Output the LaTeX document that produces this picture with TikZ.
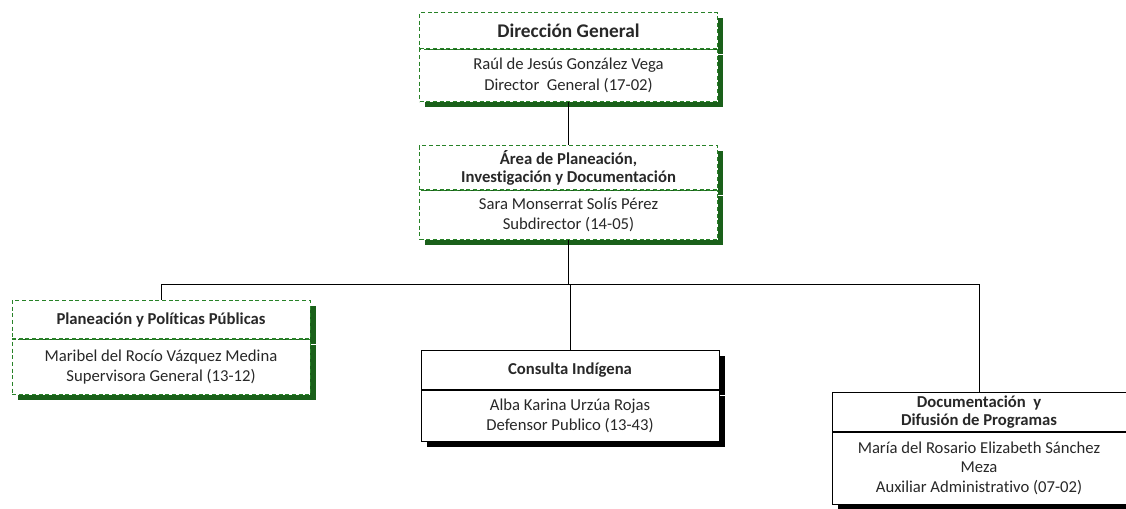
\documentclass[tikz,border=0pt]{standalone}
\usepackage{fontspec}
\setmainfont{Carlito}[Ligatures=NoCommon]
\usetikzlibrary{positioning,shadows}

\definecolor{linegreen}{RGB}{40,130,40}
\definecolor{shadegreen}{RGB}{26,96,26}
\definecolor{txtgray}{RGB}{40,40,40}

\begin{document}
\begin{tikzpicture}[x=0.75pt,y=-0.75pt,
    greenbox/.style={rectangle, draw=linegreen, dashed, dash pattern=on 3pt off 2pt, fill=white, line width=0.75pt,
        minimum width=223.5pt, inner sep=1pt, align=center, text=txtgray,
        drop shadow={fill=shadegreen, opacity=1, shadow xshift=4.2pt, shadow yshift=-4.2pt}},
    blackbox/.style={rectangle, draw=black, fill=white, line width=0.6pt,
        minimum width=223.5pt, inner sep=1pt, align=center, text=txtgray,
        drop shadow={fill=black, opacity=1, shadow xshift=4.2pt, shadow yshift=-4.2pt}},
    headfont/.style={font=\bfseries\fontsize{12.5}{13.5}\selectfont},
    bodyfont/.style={font=\fontsize{12.5}{15.5}\selectfont},
    link/.style={draw=black, line width=0.6pt}]

    \useasboundingbox (0,0) rectangle (1126,508);

    % direccion general
    \node[greenbox, anchor=north, minimum height=27pt, font=\bfseries\fontsize{14.5}{16}\selectfont] (dgtitle) at (568.5,12) {Dirección General};
    \node[greenbox, bodyfont, minimum height=39pt] (dgbody) [below=0pt of dgtitle] {Raúl de Jesús González Vega\\Director~ General (17-02)};

    % area de planeacion
    \node[greenbox, headfont, anchor=north, minimum height=33pt] (aptitle) at (568.5,145) {Área de Planeación,\\Investigación y Documentación};
    \node[greenbox, bodyfont, minimum height=36.75pt] (apbody) [below=0pt of aptitle] {Sara Monserrat Solís Pérez\\Subdirector (14-05)};

    % planeacion y politicas
    \node[greenbox, headfont, anchor=north, minimum height=28.5pt] (pptitle) at (161,300) {Planeación y Políticas Públicas};
    \node[greenbox, bodyfont, minimum height=41.25pt] (ppbody) [below=0pt of pptitle] {Maribel del Rocío Vázquez Medina\\Supervisora General (13-12)};

    % consulta indigena
    \node[blackbox, headfont, anchor=north, minimum height=29.25pt] (cititle) at (570,350) {Consulta Indígena};
    \node[blackbox, bodyfont, minimum height=38.25pt] (cibody) [below=0pt of cititle] {Alba Karina Urzúa Rojas\\Defensor Publico (13-43)};

    % documentacion y difusion
    \node[blackbox, headfont, anchor=north, minimum width=220.5pt, minimum height=29.25pt] (ddtitle) at (979,392) {Documentación~ y\\Difusión de Programas};
    \node[blackbox, minimum width=220.5pt, minimum height=54pt, font=\fontsize{12.5}{14.6}\selectfont] (ddbody) [below=0pt of ddtitle] {María del Rosario Elizabeth Sánchez\\Meza\\Auxiliar Administrativo (07-02)};

    % lineas
    \coordinate (bus) at (568.5,284);
    \draw[link] (dgbody.south) -- (aptitle.north);
    \draw[link] (apbody.south) -- (bus);
    \draw[link] (bus) -| (pptitle.north);
    \draw[link] (bus) -| (ddtitle.north);
    \draw[link] (bus -| cititle.north) -- (cititle.north);

\end{tikzpicture}
\end{document}
